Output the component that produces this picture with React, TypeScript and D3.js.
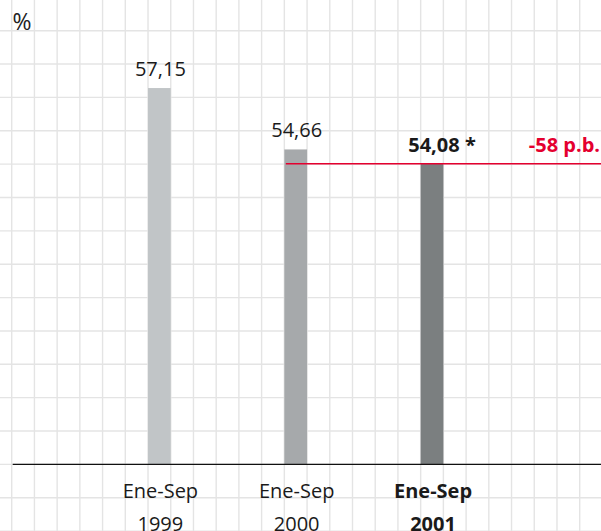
import React from "react";
import * as d3 from "d3";

const categories = ["1999", "2000", "2001"];
const periodLabel = "Ene-Sep";
const values = [57.15, 54.66, 54.08];
const valueLabels = ["57,15", "54,66", "54,08 *"];
const highlight = [false, false, true];
const barColors = ["#c1c5c7", "#a6a9ab", "#7b7f80"];
const diffLabel = "-58 p.b.";
const unitLabel = "%";

const W = 601;
const H = 531;
const FONT = "'Open Sans', 'Noto Sans', sans-serif";

export default function App() {
  const gridX0 = 11.7;
  const gridStepX = 22.72;
  const gridY0 = 30.7;
  const gridStepY = 33.36;
  const baseY = gridY0 + gridStepY * 13;

  const x = d3
    .scalePoint<string>()
    .domain(categories)
    .range([gridX0 + gridStepX * 6.5, gridX0 + gridStepX * 18.5]);
  const barW = gridStepX;

  const y = d3.scaleLinear().domain([41.89, 60.72]).range([baseY, 0]);

  const vLines = d3.range(0, 27).map((k) => gridX0 + k * gridStepX);
  const hLines = d3.range(0, 16).map((k) => gridY0 + k * gridStepY);

  const last = categories.length - 1;
  const redY = y(values[last]);
  const redX0 = (x(categories[1]) as number) - barW / 2 + 1.5;

  return (
    <svg
      width={W}
      height={H}
      style={{ position: "absolute", left: 0, top: 0, background: "#fff" }}
      fontFamily={FONT}
    >
      <rect x={0} y={0} width={W} height={H} fill="#fff" />
      <g stroke="#e4e4e4" strokeWidth={1.4}>
        {vLines.map((vx, i) => (
          <line key={"v" + i} x1={vx} x2={vx} y1={0} y2={H} />
        ))}
        {hLines.map((hy, i) => (
          <line key={"h" + i} x1={0} x2={W} y1={hy} y2={hy} />
        ))}
      </g>

      <text x={12.5} y={29.5} fontSize={23} fill="#222">
        {unitLabel}
      </text>

      {categories.map((c, i) => {
        const cx = x(c) as number;
        const top = y(values[i]);
        return (
          <g key={c}>
            <rect
              x={cx - barW / 2}
              y={top}
              width={barW}
              height={baseY - top}
              fill={barColors[i]}
            />
            <text
              x={highlight[i] ? cx + 10 : cx + 1}
              y={top - 12}
              textAnchor="middle"
              fontSize={20}
              fontWeight={highlight[i] ? 700 : 400}
              fill="#1a1a1a"
            >
              {valueLabels[i]}
            </text>
            <text
              x={cx + 1}
              y={498}
              textAnchor="middle"
              fontSize={20}
              fontWeight={highlight[i] ? 700 : 400}
              fill="#1a1a1a"
            >
              {periodLabel}
            </text>
            <text
              x={cx + 1}
              y={530.5}
              textAnchor="middle"
              fontSize={20}
              fontWeight={highlight[i] ? 700 : 400}
              fill="#1a1a1a"
            >
              {c}
            </text>
          </g>
        );
      })}

      <line x1={redX0} x2={W} y1={redY} y2={redY} stroke="#e4002f" strokeWidth={1.5} />
      <text
        x={600}
        y={redY - 12}
        textAnchor="end"
        fontSize={20}
        fontWeight={700}
        fill="#e4002f"
      >
        {diffLabel}
      </text>

      <line x1={12.7} x2={W} y1={baseY} y2={baseY} stroke="#111" strokeWidth={1.2} />
    </svg>
  );
}
